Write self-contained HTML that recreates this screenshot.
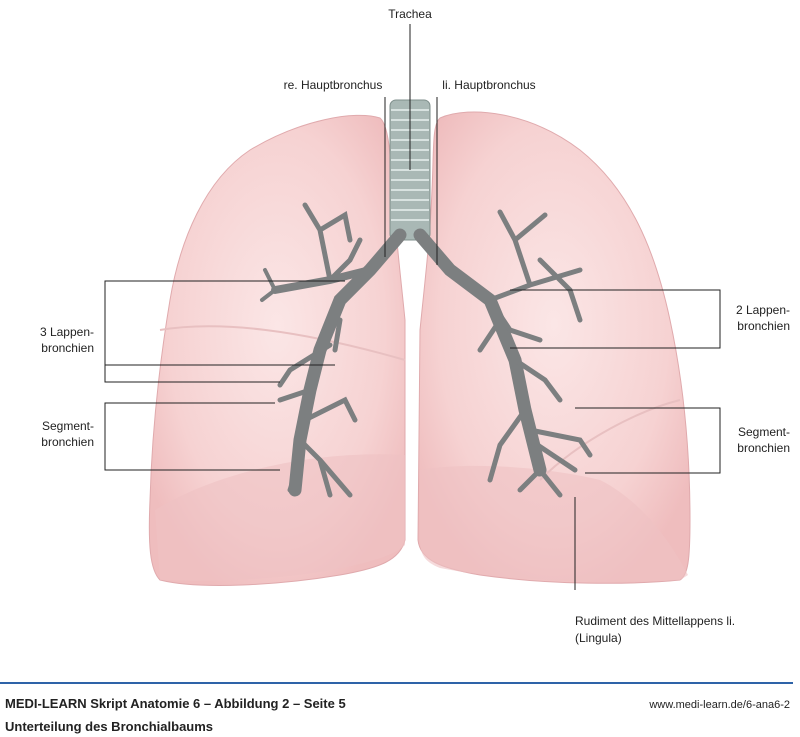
<!DOCTYPE html>
<html><head><meta charset="utf-8"><style>
body{margin:0;background:#fff;width:800px;height:737px;overflow:hidden;font-family:"Liberation Sans",sans-serif}
svg{position:absolute;left:0;top:0}
text{font-family:"Liberation Sans",sans-serif;font-size:12px;fill:#222}
</style></head><body>
<svg width="800" height="737" viewBox="0 0 800 737">
<defs>
<radialGradient id="lg" cx="50%" cy="45%" r="60%"><stop offset="0" stop-color="#fbe6e6"/><stop offset="0.7" stop-color="#f6d2d2"/><stop offset="1" stop-color="#efbdbe"/></radialGradient>
</defs>
<path d="M380,118 C355,110 300,120 250,150 C205,180 180,240 170,300 C160,360 152,430 150,500 C148,545 150,570 160,580 C200,590 280,585 340,575 C380,568 400,560 405,540 L405,320 C400,270 395,230 392,180 C390,150 388,125 380,118 Z" fill="url(#lg)" stroke="#e0aaad" stroke-width="1"/>
<path d="M160,330 C220,320 300,330 405,360" fill="none" stroke="#e8c0c1" stroke-width="2"/>
<path d="M155,510 C220,470 320,450 405,455 L405,545 C380,570 250,585 160,580 Z" fill="#efc2c3" opacity="0.6"/>
<path d="M440,118 C470,105 530,112 580,150 C630,190 655,250 670,320 C685,390 690,460 690,520 C690,560 688,575 680,580 C630,585 550,585 480,575 C440,568 420,560 418,540 L420,330 C425,280 430,240 432,190 C434,150 432,125 440,118 Z" fill="url(#lg)" stroke="#e0aaad" stroke-width="1"/>
<path d="M420,470 C480,460 560,470 600,480 C640,500 670,540 688,575 L680,580 C600,585 500,580 440,568 C425,562 420,555 420,540 Z" fill="#efc2c3" opacity="0.6"/>
<path d="M540,480 C580,440 640,410 680,400" fill="none" stroke="#e8c0c1" stroke-width="2"/>
<rect x="390" y="100" width="40" height="140" rx="6" fill="#a9b8b5" stroke="#7f8f8c"/>
<g stroke="#d8e2e0" stroke-width="2">
<line x1="391" y1="110" x2="429" y2="110"/><line x1="391" y1="120" x2="429" y2="120"/><line x1="391" y1="130" x2="429" y2="130"/><line x1="391" y1="140" x2="429" y2="140"/><line x1="391" y1="150" x2="429" y2="150"/><line x1="391" y1="160" x2="429" y2="160"/><line x1="391" y1="170" x2="429" y2="170"/><line x1="391" y1="180" x2="429" y2="180"/><line x1="391" y1="190" x2="429" y2="190"/><line x1="391" y1="200" x2="429" y2="200"/><line x1="391" y1="210" x2="429" y2="210"/><line x1="391" y1="220" x2="429" y2="220"/>
</g>
<g fill="none" stroke="#7c7f80" stroke-linecap="round">
<path d="M400,235 L370,270 L340,300 L320,350 L310,390 L300,440 L295,490" stroke-width="13"/>
<path d="M420,235 L450,270 L490,300 L515,360 L525,410 L540,470" stroke-width="13"/>
<path d="M370,270 L330,280 L275,290" stroke-width="8"/>
<path d="M330,280 L320,230 L305,205 M320,230 L345,215 L350,240 M330,280 L350,260 L360,240" stroke-width="5"/>
<path d="M275,290 L265,270 M275,290 L262,300" stroke-width="4"/>
<path d="M330,345 L290,370 L280,385 M310,390 L280,400 M300,440 L320,460 L330,495 M305,420 L345,400 L355,420 M300,460 L290,490 M320,460 L350,495 M335,350 L340,320" stroke-width="5"/>
<path d="M490,300 L530,285 L580,270 M530,285 L515,240 L500,212 M515,240 L545,215 M540,260 L570,290 L580,320 M490,300 L510,330 L540,340 M500,320 L480,350" stroke-width="5"/>
<path d="M515,360 L545,380 L560,400 M525,410 L500,445 L490,480 M530,430 L580,440 L590,455 M540,470 L520,490 M540,470 L560,495 M530,440 L575,470" stroke-width="5"/>
</g>
<g stroke="#222" stroke-width="1" fill="none">
<line x1="410" y1="24" x2="410" y2="170"/>
<line x1="385" y1="97" x2="385" y2="257"/>
<line x1="437" y1="97" x2="437" y2="265"/>
<polyline points="345,281 105,281 105,382 280,382"/>
<line x1="105" y1="365" x2="335" y2="365"/>
<polyline points="275,403 105,403 105,470 280,470"/>
<polyline points="510,290 720,290 720,348 510,348"/>
<polyline points="575,408 720,408 720,473 585,473"/>
<line x1="575" y1="497" x2="575" y2="590"/>
</g>
<text x="410" y="18" text-anchor="middle">Trachea</text>
<text x="333" y="89" text-anchor="middle">re. Hauptbronchus</text>
<text x="489" y="89" text-anchor="middle">li. Hauptbronchus</text>
<text x="94" y="336" text-anchor="end">3 Lappen-</text>
<text x="94" y="352" text-anchor="end">bronchien</text>
<text x="94" y="430" text-anchor="end">Segment-</text>
<text x="94" y="446" text-anchor="end">bronchien</text>
<text x="790" y="314" text-anchor="end">2 Lappen-</text>
<text x="790" y="330" text-anchor="end">bronchien</text>
<text x="790" y="436" text-anchor="end">Segment-</text>
<text x="790" y="452" text-anchor="end">bronchien</text>
<text x="575" y="625">Rudiment des Mittellappens li.</text>
<text x="575" y="642">(Lingula)</text>
<line x1="0" y1="683" x2="793" y2="683" stroke="#2e63a8" stroke-width="2"/>
<text x="5" y="708" style="font-weight:bold;font-size:13px">MEDI-LEARN Skript Anatomie 6 – Abbildung 2 – Seite 5</text>
<text x="790" y="708" text-anchor="end" style="font-size:11px">www.medi-learn.de/6-ana6-2</text>
<text x="5" y="731" style="font-weight:bold;font-size:13px">Unterteilung des Bronchialbaums</text>
</svg>
</body></html>
